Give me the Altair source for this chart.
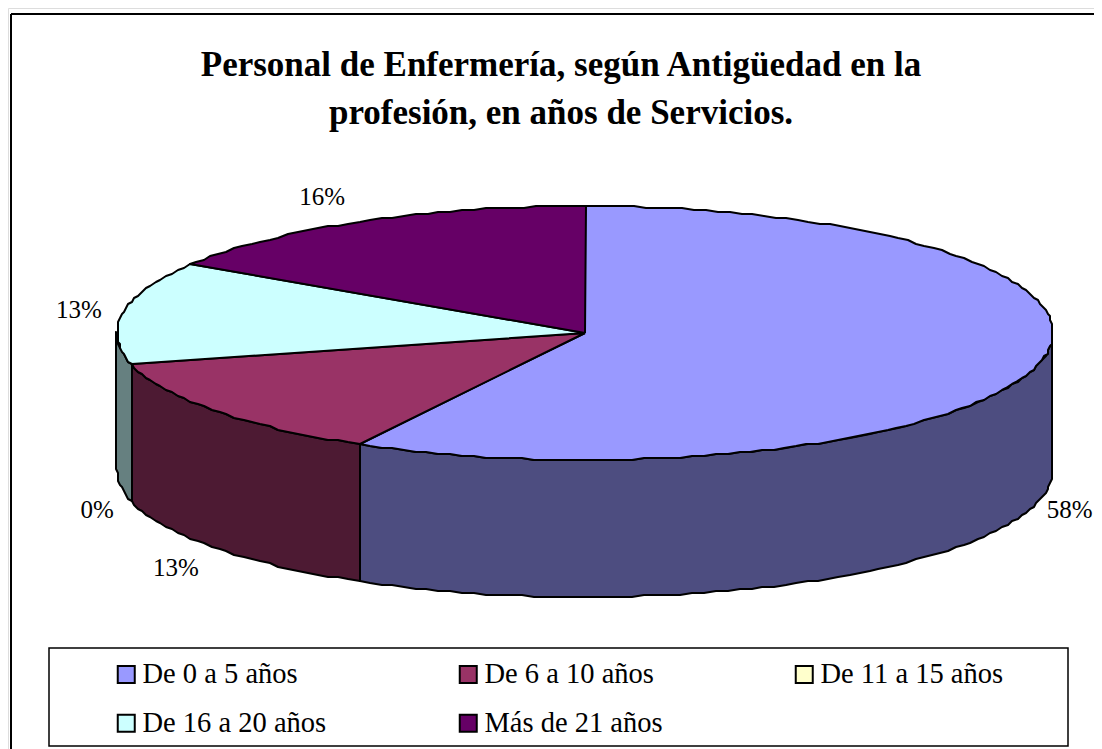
import math
import altair as alt
import pandas as pd

categories = ["De 0 a 5 años", "De 6 a 10 años", "De 11 a 15 años", "De 16 a 20 años", "Más de 21 años"]
shares = [58, 13, 0, 13, 16]
top_colors = ["#9999FF", "#993366", "#FFFFCC", "#CCFFFF", "#660066"]
side_colors = ["#4D4D80", "#4D1A33", "#808066", "#668080", "#330033"]
title_lines = ["Personal de Enfermería, según Antigüedad en la", "profesión, en años de Servicios."]
# Vega fills legend columns first, so this order reads row by row as in the reference
legend_order = [0, 3, 1, 4, 2]

W, H = 1086, 741
OX, OY = 8, 8
CX, CY, RX, RY, DEPTH = 585 - OX, 333 - OY, 468, 127, 137
label_reach = [1.069, 1.106, 1.076, 1.095, 1.166]
label_shift = [6, 12, 6, -1, -6]
GRID = 2


def ellipse(a, drop=0.0):
    r = math.radians(a)
    x = CX + RX * math.sin(r)
    y = CY - RY * math.cos(r)
    return round(x / GRID) * GRID, round(y / GRID) * GRID + drop


def arc(a0, a1):
    n = max(1, int(abs(a1 - a0) / 1.5))
    return [a0 + (a1 - a0) * i / n for i in range(n + 1)]


rows = []
labels = []


def add(part, color, pts):
    for i, (x, y) in enumerate(pts + pts[:1]):
        rows.append({"part": part, "fillc": color, "i": i, "x": x, "y": y})


start = 0.0
walls, tops = [], []
for cat, s, tc, sc, k, sh in zip(categories, shares, top_colors, side_colors, label_reach, label_shift):
    end = start + s * 3.6
    if s > 0:
        tops.append((cat, tc, [(CX, CY)] + [ellipse(a) for a in arc(start, end)]))
        lo, hi = max(start, 90), min(end, 270)
        if hi > lo:
            front = [ellipse(a) for a in arc(lo, hi)]
            back = [ellipse(a, DEPTH) for a in arc(hi, lo)]
            walls.append(("wall " + cat, sc, front + back))
    mid = (start + end) / 2
    r = math.radians(mid)
    below = DEPTH if 90 < mid < 270 else 0
    labels.append({
        "x": CX + k * RX * math.sin(r),
        "y": CY - k * RY * math.cos(r) + below + sh,
        "text": f"{s}%",
    })
    start = end

for part, color, pts in walls + tops:
    add(part, color, pts)

poly_df = pd.DataFrame(rows)
label_df = pd.DataFrame(labels)
legend_df = pd.DataFrame({"cat": categories, "x": [CX] * 5, "y": [CY] * 5})

xs = alt.Scale(domain=[0, W], range=[0, W], nice=False, zero=False)
ys = alt.Scale(domain=[0, H], range=[0, H], nice=False, zero=False)
X = alt.X("x:Q", scale=xs, axis=None)
Y = alt.Y("y:Q", scale=ys, axis=None)

top_edge = alt.Chart(pd.DataFrame({"x": [11 - OX], "x2": [W], "y": [14 - OY]})).mark_rule(
    color="black", strokeWidth=2
).encode(x=X, x2="x2:Q", y=Y)
left_edge = alt.Chart(pd.DataFrame({"x": [11 - OX], "y": [14 - OY], "y2": [H]})).mark_rule(
    color="black", strokeWidth=2
).encode(x=X, y=Y, y2="y2:Q")

legend_box_df = pd.DataFrame({"x": [49 - OX], "x2": [1068 - OX], "y": [648 - OY], "y2": [746 - OY]})
legend_box = alt.Chart(legend_box_df).mark_rect(fill="white", stroke="black", strokeWidth=1.5).encode(
    x=X, x2="x2:Q", y=Y, y2="y2:Q"
)

polys = alt.Chart(poly_df).mark_line(stroke="black", strokeWidth=2, strokeJoin="round").encode(
    x=X, y=Y, detail="part:N", order="i:Q",
    fill=alt.Fill("fillc:N", scale=None),
)

texts = alt.Chart(label_df).mark_text(font="Liberation Serif", fontSize=25, color="black").encode(
    x=X, y=Y, text="text:N"
)

legend_layer = alt.Chart(legend_df).mark_point(filled=True, shape="square", size=1, opacity=0).encode(
    x=X, y=Y,
    color=alt.Color(
        "cat:N",
        scale=alt.Scale(
            domain=[categories[i] for i in legend_order],
            range=[top_colors[i] for i in legend_order],
        ),
        legend=alt.Legend(
            title=None, orient="none", legendX=112 - OX, legendY=660 - OY, columns=3,
            symbolType="square", symbolSize=289, symbolStrokeColor="black", symbolStrokeWidth=2,
            symbolOpacity=1, labelFont="Liberation Serif", labelFontSize=28.5, labelColor="black",
            labelLimit=300, labelOffset=2, columnPadding=127, rowPadding=20, padding=0,
        ),
    ),
)

chart = alt.layer(top_edge, left_edge, legend_box, polys, texts, legend_layer).properties(
    width=W, height=H, padding=0,
    autosize=alt.AutoSizeParams(type="none"),
    title=alt.TitleParams(
        text=title_lines, font="Liberation Serif", fontSize=35, fontWeight="bold", color="black",
        anchor="middle", frame="group", orient="top", baseline="top", offset=0, dx=10, dy=123, lineHeight=48,
    ),
).configure_view(stroke="transparent", strokeWidth=0).configure(background="white")

chart.save("out.html", embed_options={"renderer": "svg", "actions": False})
